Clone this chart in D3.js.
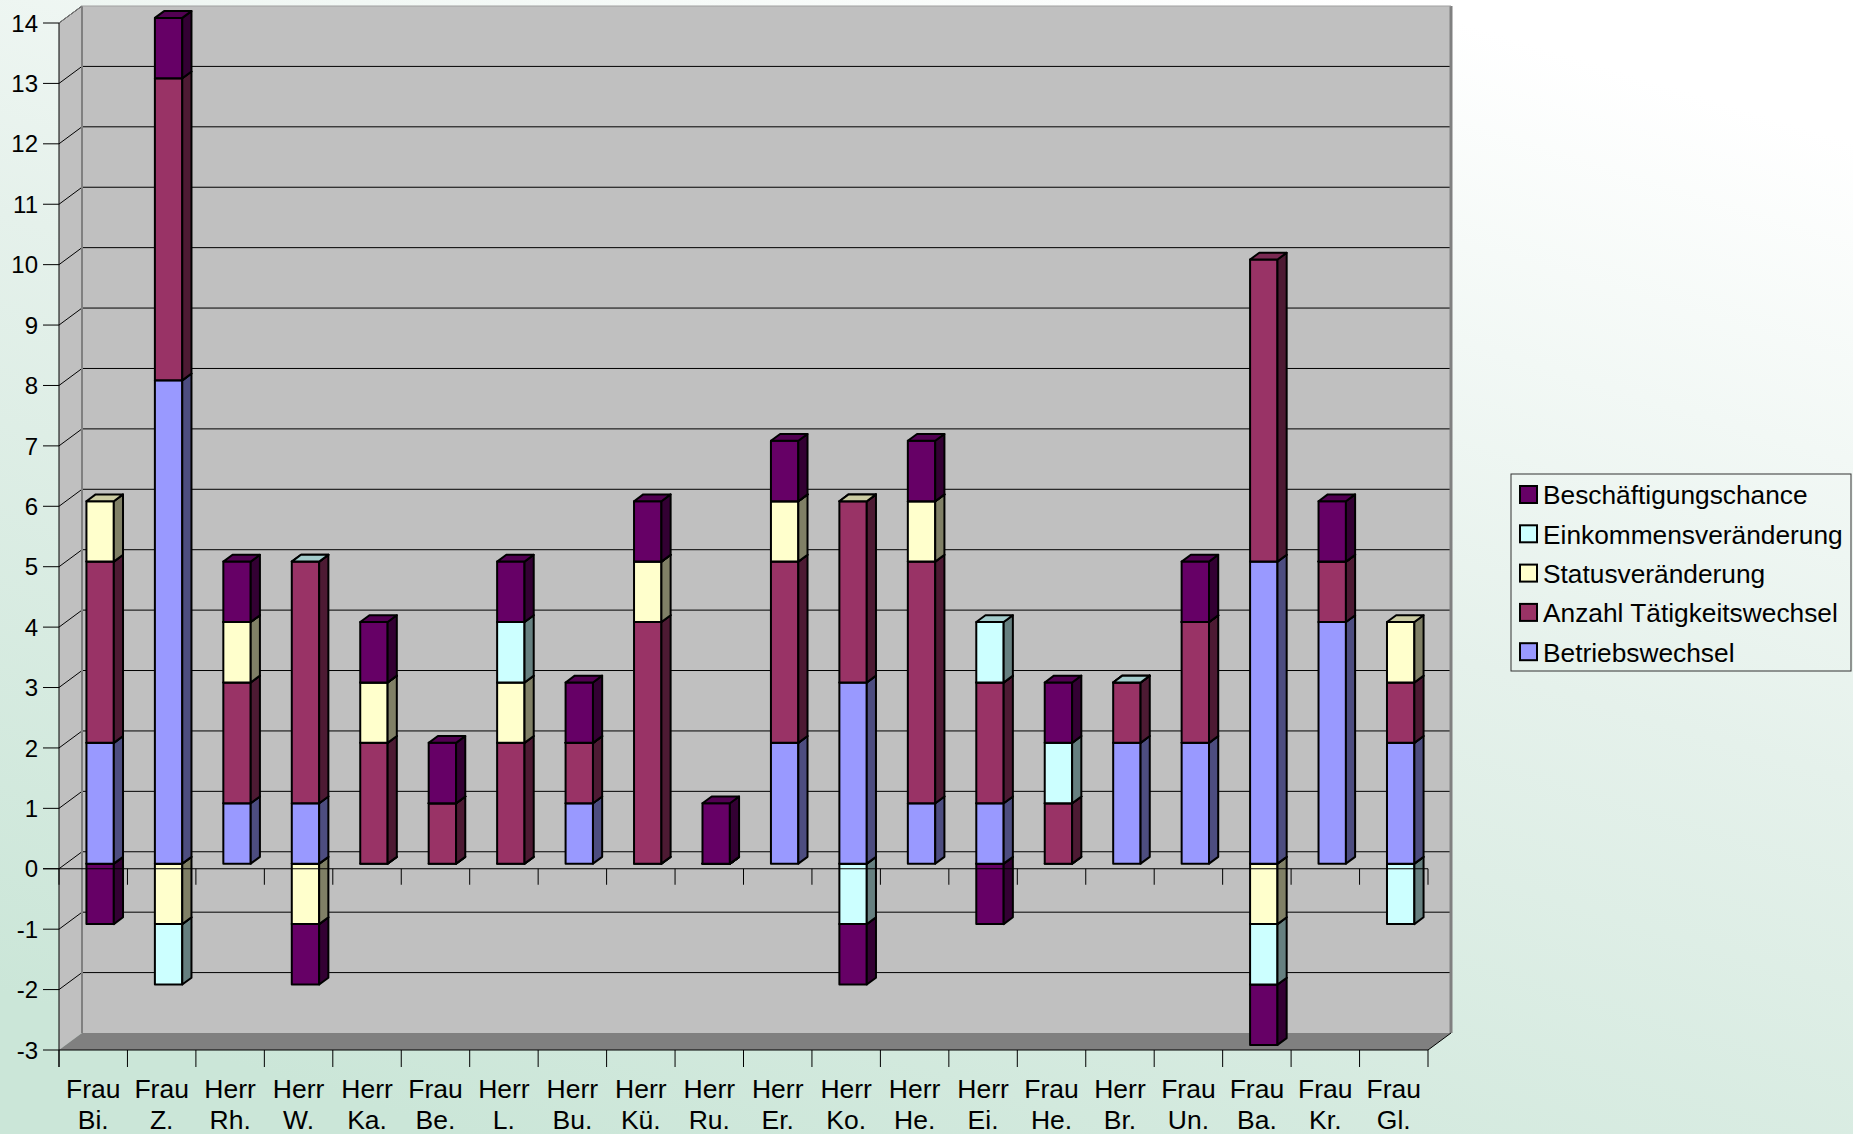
<!DOCTYPE html>
<html><head><meta charset="utf-8">
<script src="https://cdn.jsdelivr.net/npm/d3@7"></script>
<style>html,body{margin:0;padding:0;overflow:hidden;}svg{display:block;}text{font-family:"Liberation Sans",Arial,sans-serif;fill:#000;}</style>
</head><body>
<script>
const categories = ["Frau Bi.","Frau Z.","Herr Rh.","Herr W.","Herr Ka.","Frau Be.","Herr L.","Herr Bu.","Herr Kü.","Herr Ru.","Herr Er.","Herr Ko.","Herr He.","Herr Ei.","Frau He.","Herr Br.","Frau Un.","Frau Ba.","Frau Kr.","Frau Gl."];
const betriebswechsel      = [2, 8, 1, 1, 0, 0, 0, 1, 0, 0, 2, 3, 1, 1, 0, 2, 2, 5, 4, 2];
const anzahlTaetigkeit     = [3, 5, 2, 4, 2, 1, 2, 1, 4, 0, 3, 3, 4, 2, 1, 1, 2, 5, 1, 1];
const statusveraenderung   = [1,-1, 1,-1, 1, 0, 1, 0, 1, 0, 1, 0, 1, 0, 0, 0, 0,-1, 0, 1];
const einkommen            = [null,-1,0,0,0,0,1,0,0,0,0,-1,0,1,1,0,0,-1,0,-1];
const beschaeftigung       = [-1, 1, 1,-1, 1, 1, 1, 1, 1, 1, 1,-1, 1,-1, 1, null, 1,-1, 1, null];
const seriesNames = ["Betriebswechsel","Anzahl Tätigkeitswechsel","Statusveränderung","Einkommensveränderung","Beschäftigungschance"];
const seriesValues = [betriebswechsel, anzahlTaetigkeit, statusveraenderung, einkommen, beschaeftigung];
const seriesColors = ["#9999ff","#993366","#ffffcc","#ccffff","#660066"];
const yTicks = d3.range(-3, 15);

const W = 1853, H = 1134;
const svg = d3.select("body").append("svg").attr("width", W).attr("height", H);
const defs = svg.append("defs");
const grad = defs.append("linearGradient").attr("id","bg").attr("x1","0.75").attr("y1","0").attr("x2","0.25").attr("y2","1");
grad.append("stop").attr("offset","0%").attr("stop-color","#ffffff");
grad.append("stop").attr("offset","45%").attr("stop-color","#e5f1eb");
grad.append("stop").attr("offset","100%").attr("stop-color","#cbe6d8");
svg.append("rect").attr("width",W).attr("height",H).attr("fill","url(#bg)");

const y = d3.scaleLinear().domain([-3, 14]).range([1050, 23]);
const x = d3.scaleBand().domain(categories).range([59, 1428]).padding(0);
const DX = 23, DY = -17;
const xL = x.range()[0], xR = x.range()[1];
const yB = y(-3), yT = y(14);

// walls
svg.append("polygon").attr("points", [[xL,yT],[xL+DX,yT+DY],[xL+DX,yB+DY],[xL,yB]].join(" "))
  .attr("fill","#c0c0c0");
svg.append("rect").attr("x",xL+DX).attr("y",yT+DY).attr("width",xR-xL).attr("height",yB-yT)
  .attr("fill","#c0c0c0");
svg.append("polygon").attr("points", [[xL,yB],[xL+DX,yB+DY],[xR+DX,yB+DY],[xR,yB]].join(" "))
  .attr("fill","#808080");
// gridlines
const g = svg.append("g");
yTicks.forEach(v => {
  const yy = y(v);
  if (v > -3 && v < 14) {
    g.append("line").attr("x1",xL+DX).attr("x2",xR+DX).attr("y1",yy+DY).attr("y2",yy+DY).attr("stroke","#000").attr("stroke-width",1);
  }
  if (v > -3) g.append("line").attr("x1",xL).attr("x2",xL+DX).attr("y1",yy).attr("y2",yy+DY).attr("stroke","#000").attr("stroke-width",1);
});
// wall edges
svg.append("line").attr("x1",xL+DX).attr("x2",xL+DX).attr("y1",yT+DY).attr("y2",yB+DY).attr("stroke","#808080").attr("stroke-width",2);
svg.append("line").attr("x1",xR+DX).attr("x2",xR+DX).attr("y1",yT+DY).attr("y2",yB+DY).attr("stroke","#808080").attr("stroke-width",3);
svg.append("line").attr("x1",xL+DX).attr("x2",xR+DX).attr("y1",yT+DY).attr("y2",yT+DY).attr("stroke","#a0a0a0").attr("stroke-width",1);
svg.append("line").attr("x1",xL).attr("x2",xL+DX).attr("y1",yT).attr("y2",yT+DY).attr("stroke","#808080").attr("stroke-width",1);
svg.append("line").attr("x1",xR).attr("x2",xR+DX).attr("y1",yB).attr("y2",yB+DY).attr("stroke","#000").attr("stroke-width",1);

// bars
function shade(c, k) { const r = d3.rgb(c); return d3.rgb(r.r*k, r.g*k, r.b*k).formatHex(); }
const barW = x.bandwidth() * 0.4;
const fdx = 0.3*DX, fdy = 0.3*DY, bdx = 0.4*DX, bdy = 0.4*DY;
const bars = svg.append("g");
categories.forEach((cat, j) => {
  let pos = 0, neg = 0; const segs = [];
  seriesValues.forEach((arr, i) => {
    const v = arr[j];
    if (v === null || v === undefined) return;
    if (v >= 0) { segs.push({i, y0: pos, y1: pos + v}); pos += v; }
    else { segs.push({i, y0: neg + v, y1: neg}); neg += v; }
  });
  segs.sort((a, b) => a.y0 - b.y0);
  const xl = x(cat) + (x.bandwidth() - barW)/2 + fdx;
  const xr = xl + barW;
  segs.forEach(s => {
    const c = seriesColors[s.i];
    const yt = y(s.y1) + fdy, yb = y(s.y0) + fdy;
    const gg = bars.append("g").attr("stroke","#000").attr("stroke-width",2).attr("stroke-linejoin","round");
    gg.append("rect").attr("x",xl).attr("y",yt).attr("width",barW).attr("height",yb-yt).attr("fill",c);
    gg.append("polygon").attr("points",[[xr,yt],[xr+bdx,yt+bdy],[xr+bdx,yb+bdy],[xr,yb]].join(" ")).attr("fill",shade(c,0.5));
    gg.append("polygon").attr("points",[[xl,yt],[xl+bdx,yt+bdy],[xr+bdx,yt+bdy],[xr,yt]].join(" ")).attr("fill",shade(c,0.8));
  });
});

// zero line / category axis at 0
const ax = svg.append("g").attr("stroke","#000").attr("stroke-width",1);
ax.append("line").attr("x1",43).attr("x2",xR).attr("y1",y(0)).attr("y2",y(0));
const bounds = categories.map(c => x(c)).concat([xR]);
bounds.forEach(b => ax.append("line").attr("x1",b).attr("x2",b).attr("y1",y(0)).attr("y2",y(0)+16));
// bottom axis
ax.append("line").attr("x1",xL).attr("x2",xR).attr("y1",yB).attr("y2",yB);
bounds.forEach(b => ax.append("line").attr("x1",b).attr("x2",b).attr("y1",yB).attr("y2",yB+17));
// value axis
ax.append("line").attr("x1",xL).attr("x2",xL).attr("y1",yT).attr("y2",yB+17);
yTicks.forEach(v => ax.append("line").attr("x1",43).attr("x2",xL).attr("y1",y(v)).attr("y2",y(v)));

svg.append("g").selectAll("text").data(yTicks).join("text")
  .attr("x",38).attr("y",d => y(d)).attr("dy","0.36em").attr("text-anchor","end")
  .attr("font-size",24).text(d => d);

const cl = svg.append("g").selectAll("text").data(categories).join("text")
  .attr("text-anchor","middle").attr("font-size",26.5);
cl.each(function(d){
  const parts = d.split(" ");
  const t = d3.select(this);
  const cx = x(d) + x.bandwidth()/2;
  t.append("tspan").attr("x",cx).attr("y",1098).text(parts[0]);
  t.append("tspan").attr("x",cx).attr("y",1129).text(parts[1]);
});

// legend
const lg = svg.append("g");
lg.append("rect").attr("x",1511).attr("y",474).attr("width",340).attr("height",197)
  .attr("fill","none").attr("stroke","#333").attr("stroke-width",1);
const legendOrder = [4,3,2,1,0];
legendOrder.forEach((si, k) => {
  const cy = 495 + k*39.3;
  lg.append("rect").attr("x",1520).attr("y",cy-9).attr("width",17).attr("height",17)
    .attr("fill",seriesColors[si]).attr("stroke","#000").attr("stroke-width",2);
  lg.append("text").attr("x",1543).attr("y",cy).attr("dy","0.36em").attr("font-size",26.3).text(seriesNames[si]);
});
</script>
</body></html>
